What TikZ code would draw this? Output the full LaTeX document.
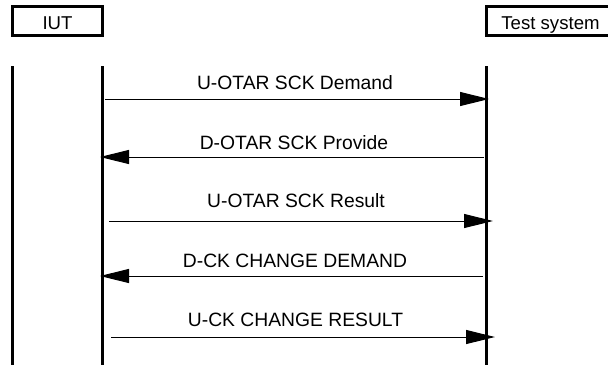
\documentclass[tikz,border=0pt]{standalone}
\usepackage{fontspec}
\setmainfont{Liberation Sans}
\usetikzlibrary{arrows.meta}
\begin{document}
\begin{tikzpicture}[x=0.5pt,y=-0.5pt]
        \tikzset{entity/.style={draw=black, line width=1.2pt, outer sep=0pt, inner sep=0pt,
                minimum height=14.5pt, text height=8pt, text depth=0pt,
                font=\fontsize{9.3}{11}\selectfont},
            lifeline/.style={draw=black, line width=1.9pt},
            msg/.style={draw=black, line width=0.5pt, -{Triangle[length=14.5pt,width=7pt]}},
            msg label/.style={anchor=base, inner sep=0pt, font=\fontsize{9.65}{11}\selectfont}}

        \useasboundingbox (0,0) rectangle (608,365);

        \node[entity, minimum width=45pt] (iut) at (57.5,21) {IUT};
        \node[entity, minimum width=64pt] (ts) at (550.5,21) {Test system};

        % lifelines
        \coordinate (top) at (0,66);
        \coordinate (bot) at (0,365);
        \draw[lifeline] (iut.south west |- top) -- (iut.south west |- bot);
        \draw[lifeline] (iut.south east |- top) -- (iut.south east |- bot);
        \draw[lifeline] (ts.south west |- top) -- (ts.south west |- bot);

        % messages
        \coordinate (iut1) at (105,99);
        \coordinate (ts1) at (489,99);
        \draw[msg] (iut1) -- (ts1);
        \node[msg label] (lab1) at (295,89) {U-OTAR SCK Demand};

        \coordinate (ts2) at (484,157);
        \coordinate (iut2) at (100,157);
        \draw[msg] (ts2) -- (iut2);
        \node[msg label] (lab2) at (294,149) {D-OTAR SCK Provide};

        \coordinate (iut3) at (109,221);
        \coordinate (ts3) at (493,221);
        \draw[msg] (iut3) -- (ts3);
        \node[msg label] (lab3) at (296,207) {U-OTAR SCK Result};

        \coordinate (ts4) at (483,276);
        \coordinate (iut4) at (100,276);
        \draw[msg] (ts4) -- (iut4);
        \node[msg label] (lab4) at (295,267) {D-CK CHANGE DEMAND};

        \coordinate (iut5) at (111,337);
        \coordinate (ts5) at (495,337);
        \draw[msg] (iut5) -- (ts5);
        \node[msg label] (lab5) at (295.5,326) {U-CK CHANGE RESULT};
    \end{tikzpicture}
\end{document}
